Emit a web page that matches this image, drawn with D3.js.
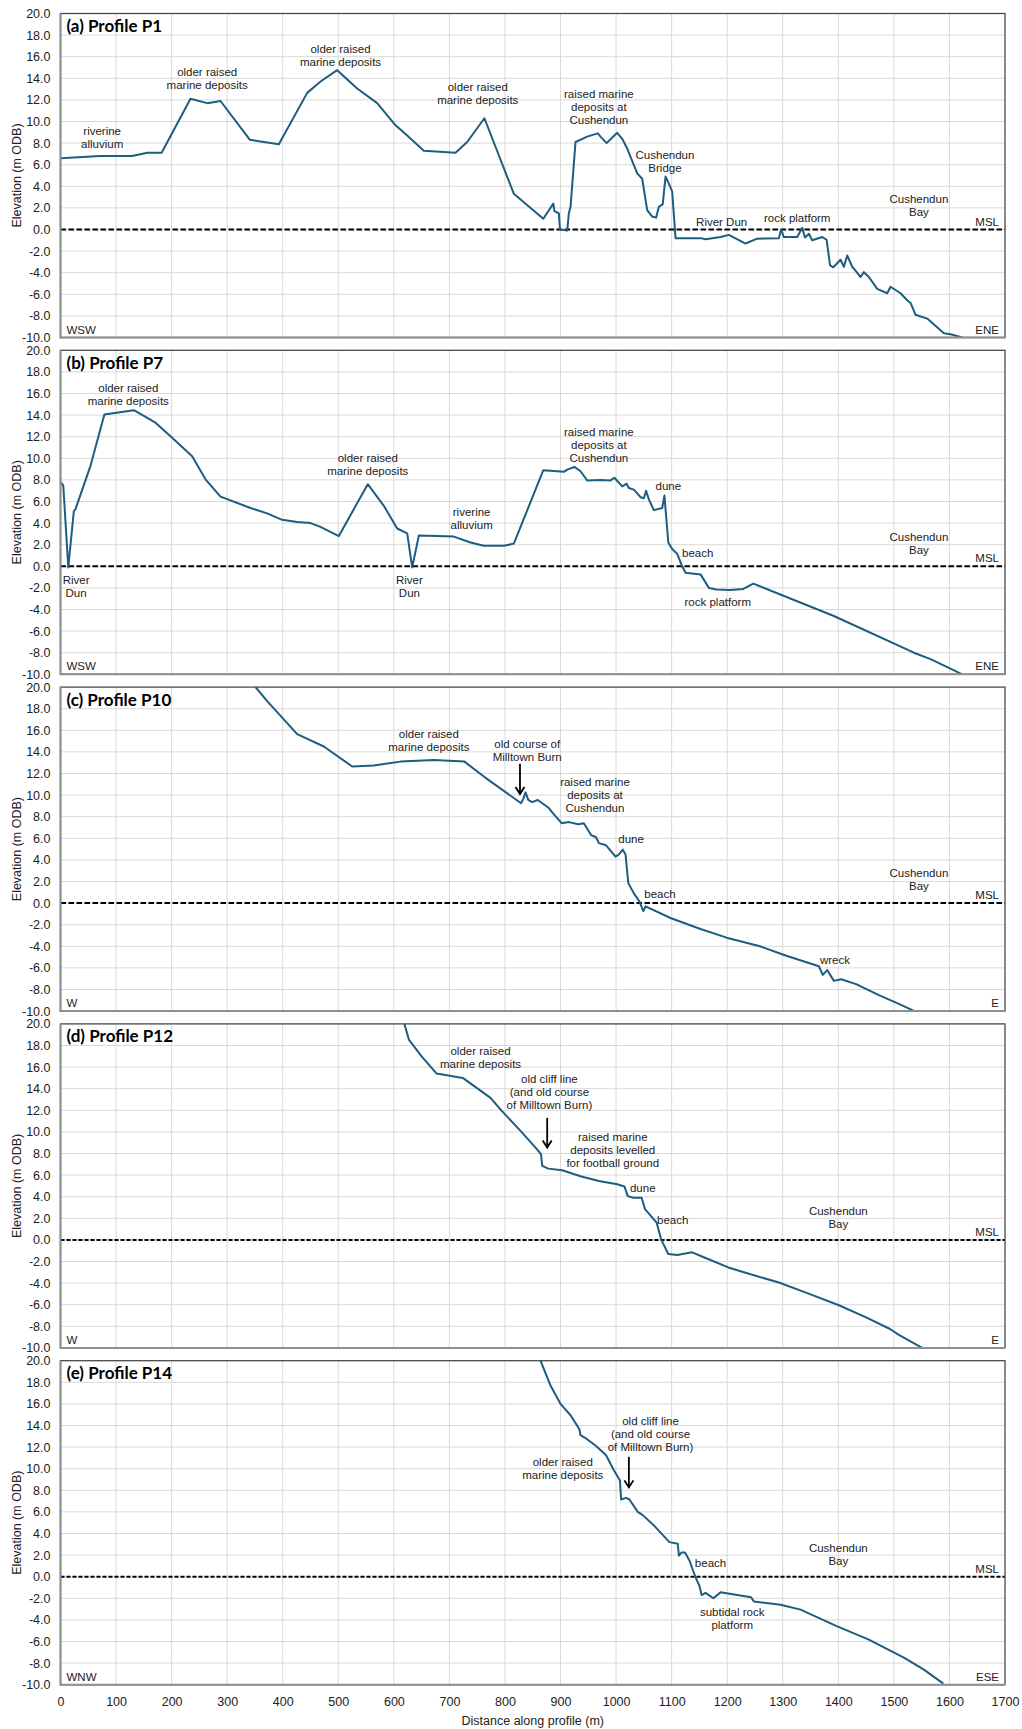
<!DOCTYPE html>
<html>
<head>
<meta charset="utf-8">
<script src="https://cdn.jsdelivr.net/npm/d3@7"></script>
<style>
  html, body { margin: 0; padding: 0; background: #fff; }
  svg { display: block; font-family: "Liberation Sans", Arial, sans-serif; }
</style>
</head>
<body>
<div id="chart"></div>
<script>
// ---- profile data: [distance along profile (m), elevation (m ODB)] ----
const p1 = [[0,6.6],[72,6.8],[129,6.8],[156,7.1],[182,7.1],[234,12.1],[264,11.7],[288,11.9],[341,8.3],[393,7.9],
  [444,12.65],[468,13.7],[498,14.75],[534,13.05],[570,11.7],[603,9.65],[624,8.7],[654,7.3],[711,7.1],[732,8.1],
  [763,10.3],[816,3.3],[869,1.0],[887,2.4],[889,1.7],[897,1.5],[899,0.0],[912,-0.1],[915,1.5],[918,2.1],
  [927,8.1],[948,8.6],[967,8.9],[972,8.6],[983,8.0],[1002,8.95],[1011,8.4],[1020,7.5],[1038,5.2],[1047,4.7],
  [1056,1.8],[1065,1.2],[1072,1.1],[1077,2.1],[1084,2.35],[1089,4.9],[1095,4.25],[1101,3.5],[1107,-0.8],[1152,-0.8],
  [1161,-0.9],[1188,-0.7],[1203,-0.5],[1233,-1.3],[1254,-0.85],[1293,-0.8],[1297,0.0],[1302,-0.7],[1326,-0.7],[1335,0.15],
  [1340,-0.75],[1347,-0.4],[1353,-1.0],[1371,-0.7],[1379,-0.95],[1385,-3.3],[1391,-3.5],[1404,-2.8],[1410,-3.45],[1416,-2.4],
  [1425,-3.45],[1431,-3.8],[1440,-4.4],[1446,-3.95],[1455,-4.4],[1470,-5.5],[1488,-5.9],[1494,-5.3],[1512,-5.9],[1524,-6.55],
  [1530,-6.8],[1539,-7.9],[1560,-8.25],[1590,-9.6],[1602,-9.7],[1623,-10.0]];

const p7 = [[0,7.8],[5,7.5],[14,-0.1],[24,5.1],[27,5.3],[54,9.3],[79,14.05],[132,14.45],[171,13.3],[198,12.05],
  [237,10.2],[261,8.05],[288,6.45],[342,5.4],[372,4.9],[399,4.3],[426,4.1],[450,4.0],[468,3.65],[501,2.8],
  [553,7.6],[582,5.6],[606,3.5],[624,3.05],[633,-0.1],[645,2.85],[678,2.8],[708,2.75],[738,2.2],[762,1.9],
  [798,1.9],[816,2.1],[869,8.9],[906,8.75],[912,8.95],[925,9.2],[936,8.8],[948,7.95],[972,8.0],[990,7.95],
  [997,8.2],[1011,7.4],[1019,7.65],[1023,7.25],[1032,7.1],[1044,6.4],[1050,6.3],[1054,7.0],[1059,6.2],[1068,5.2],
  [1083,5.4],[1087,6.55],[1094,2.2],[1101,1.6],[1110,1.15],[1119,0.0],[1125,-0.6],[1152,-0.75],[1167,-2.0],[1181,-2.15],
  [1205,-2.2],[1229,-2.1],[1247,-1.6],[1392,-4.6],[1536,-8.0],[1566,-8.6],[1599,-9.4],[1623,-10.0]];

const p10 = [[351,20],[372,18.7],[426,15.65],[474,14.5],[525,12.65],[564,12.75],[612,13.1],[672,13.25],[727,13.1],[765,11.6],
  [829,9.25],[833,9.65],[837,10.25],[842,9.55],[849,9.35],[859,9.55],[879,8.8],[885,8.4],[902,7.4],[915,7.5],
  [932,7.3],[942,7.4],[955,6.3],[964,6.1],[969,5.55],[982,5.35],[999,4.3],[1005,4.5],[1012,4.95],[1017,4.5],
  [1022,1.85],[1032,0.9],[1042,0.15],[1049,-0.75],[1053,-0.3],[1099,-1.4],[1152,-2.4],[1199,-3.2],[1259,-4.0],[1305,-4.85],
  [1365,-5.85],[1372,-6.65],[1380,-6.2],[1392,-7.2],[1405,-7.05],[1432,-7.5],[1472,-8.5],[1512,-9.4],[1537,-10.0]];

const p12 = [[619,20],[627,18.55],[650,17.0],[677,15.4],[724,15.0],[774,13.15],[795,11.9],[828,10.1],[861,8.2],[865,7.9],
  [867,6.85],[878,6.6],[903,6.45],[936,5.9],[969,5.45],[1002,5.15],[1015,4.95],[1021,4.05],[1031,3.9],[1046,3.9],
  [1052,2.85],[1073,1.6],[1081,0.05],[1094,-1.3],[1110,-1.4],[1137,-1.15],[1160,-1.65],[1202,-2.55],[1227,-2.95],[1293,-3.95],
  [1343,-4.9],[1401,-6.05],[1451,-7.2],[1493,-8.25],[1509,-8.8],[1551,-10.0]];

const p14 = [[864,20],[882,17.7],[900,16.0],[918,14.95],[934,13.65],[936,13.1],[941,12.95],[946,12.8],[964,12.1],[982,11.25],
  [996,9.85],[1007,8.9],[1009,7.15],[1018,7.3],[1024,7.15],[1039,6.0],[1048,5.7],[1068,4.75],[1096,3.2],[1111,3.05],
  [1113,1.95],[1118,2.25],[1124,2.25],[1132,1.5],[1143,-0.05],[1150,-0.85],[1154,-1.7],[1161,-1.5],[1175,-2.0],[1188,-1.45],
  [1218,-1.7],[1243,-1.9],[1248,-2.3],[1296,-2.6],[1332,-3.05],[1396,-4.55],[1454,-5.8],[1518,-7.5],[1554,-8.6],[1589,-9.9]];

// ---- annotations, anchored in data space (centre of first text line) ----
const p1Labels = [
  { lines: ['riverine', 'alluvium'], d: 75, e: 9.1 },
  { lines: ['older raised', 'marine deposits'], d: 264, e: 14.6 },
  { lines: ['older raised', 'marine deposits'], d: 504, e: 16.7 },
  { lines: ['older raised', 'marine deposits'], d: 751, e: 13.2 },
  { lines: ['raised marine', 'deposits at', 'Cushendun'], d: 969, e: 12.55 },
  { lines: ['Cushendun', 'Bridge'], d: 1088, e: 6.9 },
  { lines: ['River Dun'], d: 1190, e: 0.7 },
  { lines: ['rock platform'], d: 1326, e: 1.05 },
  { lines: ['Cushendun', 'Bay'], d: 1545, e: 2.8 }
];
const p7Labels = [
  { lines: ['older raised', 'marine deposits'], d: 122, e: 16.5 },
  { lines: ['River', 'Dun'], d: 28, e: -1.3 },
  { lines: ['older raised', 'marine deposits'], d: 553, e: 10.05 },
  { lines: ['River', 'Dun'], d: 628, e: -1.25 },
  { lines: ['riverine', 'alluvium'], d: 740, e: 5.05 },
  { lines: ['raised marine', 'deposits at', 'Cushendun'], d: 969, e: 12.45 },
  { lines: ['dune'], d: 1094, e: 7.45 },
  { lines: ['beach'], d: 1147, e: 1.25 },
  { lines: ['rock platform'], d: 1183, e: -3.3 },
  { lines: ['Cushendun', 'Bay'], d: 1545, e: 2.73 }
];
const p10Labels = [
  { lines: ['older raised', 'marine deposits'], d: 663, e: 15.65 },
  { lines: ['old course of', 'Milltown Burn'], d: 840, e: 14.7 },
  { lines: ['raised marine', 'deposits at', 'Cushendun'], d: 962, e: 11.2 },
  { lines: ['dune'], d: 1027, e: 5.93 },
  { lines: ['beach'], d: 1079, e: 0.86 },
  { lines: ['wreck'], d: 1394, e: -5.25 },
  { lines: ['Cushendun', 'Bay'], d: 1545, e: 2.78 }
];
const p12Labels = [
  { lines: ['older raised', 'marine deposits'], d: 756, e: 17.5 },
  { lines: ['old cliff line', '(and old course', 'of Milltown Burn)'], d: 880, e: 14.9 },
  { lines: ['raised marine', 'deposits levelled', 'for football ground'], d: 994, e: 9.54 },
  { lines: ['dune'], d: 1048, e: 4.8 },
  { lines: ['beach'], d: 1102, e: 1.85 },
  { lines: ['Cushendun', 'Bay'], d: 1400, e: 2.7 }
];
const p14Labels = [
  { lines: ['old cliff line', '(and old course', 'of Milltown Burn)'], d: 1062, e: 14.45 },
  { lines: ['older raised', 'marine deposits'], d: 904, e: 10.65 },
  { lines: ['beach'], d: 1170, e: 1.3 },
  { lines: ['Cushendun', 'Bay'], d: 1400, e: 2.7 },
  { lines: ['subtidal rock', 'platform'], d: 1209, e: -3.24 }
];

// arrows: [distance, from elevation, to elevation]
const p10Arrow = [827, 12.9, 10.1];
const p12Arrow = [876, 11.3, 8.55];
const p14Arrow = [1023, 11.1, 8.27];

const panels = [
  { title: '(a) Profile P1', data: p1, labels: p1Labels, arrow: null, dirs: ['WSW', 'ENE'], dash: '5.5,2.5' },
  { title: '(b) Profile P7', data: p7, labels: p7Labels, arrow: null, dirs: ['WSW', 'ENE'], dash: '5.5,2.5' },
  { title: '(c) Profile P10', data: p10, labels: p10Labels, arrow: p10Arrow, dirs: ['W', 'E'], dash: '5.5,2.5' },
  { title: '(d) Profile P12', data: p12, labels: p12Labels, arrow: p12Arrow, dirs: ['W', 'E'], dash: '4,2' },
  { title: '(e) Profile P14', data: p14, labels: p14Labels, arrow: p14Arrow, dirs: ['WNW', 'ESE'], dash: '4,2' }
];

const xTicks = d3.range(0, 1701, 100);
const yTicks = d3.range(-10, 20.01, 2);

// ---- layout ----
const W = 1022, H = 1729;
const left = 60.5, right = 1005;
const firstTop = 13.5, step = 336.8, ph = 324;
const lineColor = '#1d5d7f';

const svg = d3.select('#chart').append('svg')
  .attr('width', W).attr('height', H);
svg.append('rect').attr('width', W).attr('height', H).attr('fill', '#fff');

const x = d3.scaleLinear().domain([0, 1700]).range([left, right]);

panels.forEach((p, i) => {
  const top = firstTop + i * step;
  const bottom = top + ph;
  const y = d3.scaleLinear().domain([-10, 20]).range([bottom, top]);
  const g = svg.append('g');

  // gridlines
  g.append('g').selectAll('line.v').data(xTicks.slice(1, -1)).join('line')
    .attr('x1', d => x(d)).attr('x2', d => x(d))
    .attr('y1', top).attr('y2', bottom)
    .attr('stroke', '#d9d9d9').attr('stroke-width', 1);
  g.append('g').selectAll('line.h').data(yTicks.slice(1, -1)).join('line')
    .attr('x1', left).attr('x2', right)
    .attr('y1', d => y(d)).attr('y2', d => y(d))
    .attr('stroke', '#d9d9d9').attr('stroke-width', 1);

  // mean sea level
  g.append('line')
    .attr('x1', left).attr('x2', right)
    .attr('y1', y(0)).attr('y2', y(0))
    .attr('stroke', '#000').attr('stroke-width', 2)
    .attr('stroke-dasharray', p.dash);

  // profile line (clipped to plot area)
  const clipId = 'clip' + i;
  svg.append('defs').append('clipPath').attr('id', clipId)
    .append('rect').attr('x', left).attr('y', top).attr('width', right - left).attr('height', ph);
  const line = d3.line().x(d => x(d[0])).y(d => y(d[1]));
  g.append('path')
    .datum(p.data)
    .attr('clip-path', `url(#${clipId})`)
    .attr('d', line)
    .attr('fill', 'none')
    .attr('stroke', lineColor)
    .attr('stroke-width', 2)
    .attr('stroke-linejoin', 'round');

  // plot frame
  g.append('rect')
    .attr('x', left).attr('y', top).attr('width', right - left).attr('height', ph)
    .attr('fill', 'none').attr('stroke', '#4a4a4a').attr('stroke-width', 1.3);
  g.append('line').attr('x1', left).attr('x2', left).attr('y1', top).attr('y2', bottom + 1)
    .attr('stroke', '#8f8f8f').attr('stroke-width', 2);
  g.append('line').attr('x1', left).attr('x2', right).attr('y1', bottom).attr('y2', bottom)
    .attr('stroke', '#8f8f8f').attr('stroke-width', 2);

  // y axis
  const yAxis = g.append('g')
    .attr('transform', `translate(${left},0)`)
    .call(d3.axisLeft(y).tickValues(yTicks).tickSize(0).tickPadding(10).tickFormat(d => d.toFixed(1)));
  yAxis.select('.domain').remove();
  yAxis.selectAll('text').attr('font-size', '12.5px').attr('fill', '#222')
    .attr('font-family', '"Liberation Sans", Arial, sans-serif');

  svg.append('text')
    .attr('transform', `translate(17,${(top + bottom) / 2}) rotate(-90)`)
    .attr('text-anchor', 'middle').attr('dominant-baseline', 'central')
    .attr('font-size', '12.5px').attr('fill', '#222')
    .text('Elevation (m ODB)');

  // panel title
  g.append('text')
    .attr('x', left + 6).attr('y', top + 18.5)
    .attr('font-family', 'Lato, "Open Sans", sans-serif')
    .attr('font-weight', 'bold').attr('font-size', '17px').attr('fill', '#000')
    .text(p.title);

  // annotations
  p.labels.forEach(l => {
    const t = g.append('text')
      .attr('text-anchor', 'middle')
      .attr('font-size', '11.5px').attr('fill', '#222');
    l.lines.forEach((s, k) => {
      t.append('tspan')
        .attr('x', x(l.d))
        .attr('y', y(l.e) + 4 + k * 13)
        .text(s);
    });
  });

  // MSL label and orientation labels
  g.append('text').attr('x', right - 6).attr('y', y(0) - 4)
    .attr('text-anchor', 'end').attr('font-size', '11.5px').attr('fill', '#222').text('MSL');
  g.append('text').attr('x', left + 6).attr('y', bottom - 4)
    .attr('font-size', '11.5px').attr('fill', '#222').text(p.dirs[0]);
  g.append('text').attr('x', right - 6).attr('y', bottom - 4)
    .attr('text-anchor', 'end').attr('font-size', '11.5px').attr('fill', '#222').text(p.dirs[1]);

  // arrow
  if (p.arrow) {
    const ax = x(p.arrow[0]), y1 = y(p.arrow[1]), y2 = y(p.arrow[2]);
    g.append('line').attr('x1', ax).attr('x2', ax).attr('y1', y1).attr('y2', y2)
      .attr('stroke', '#000').attr('stroke-width', 1.8);
    g.append('path')
      .attr('d', `M${ax - 4.5},${y2 - 7} L${ax},${y2} L${ax + 4.5},${y2 - 7}`)
      .attr('fill', 'none').attr('stroke', '#000').attr('stroke-width', 1.8);
  }

  // x axis on the last panel only
  if (i === panels.length - 1) {
    const xAxis = g.append('g')
      .attr('transform', `translate(0,${bottom})`)
      .call(d3.axisBottom(x).tickValues(xTicks).tickSize(0).tickPadding(12).tickFormat(d3.format('d')));
    xAxis.select('.domain').remove();
    xAxis.selectAll('text').attr('font-size', '12.5px').attr('fill', '#222')
      .attr('font-family', '"Liberation Sans", Arial, sans-serif');
    svg.append('text')
      .attr('x', (left + right) / 2).attr('y', bottom + 40)
      .attr('text-anchor', 'middle').attr('font-size', '12.5px').attr('fill', '#222')
      .text('Distance along profile (m)');
  }
});
</script>
</body>
</html>
